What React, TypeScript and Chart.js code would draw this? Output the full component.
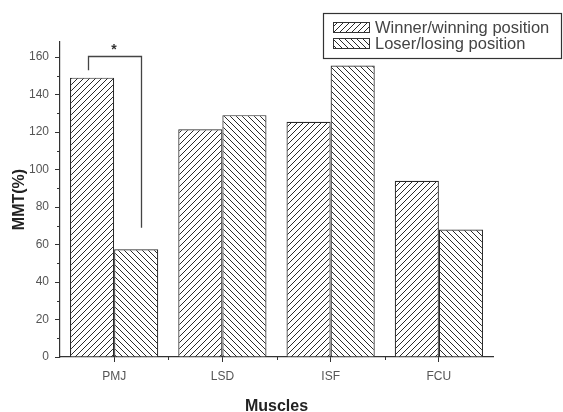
import React, { useEffect, useRef } from "react";
import { Chart, registerables } from "chart.js";

Chart.register(...registerables);

const categories = ["PMJ", "LSD", "ISF", "FCU"];
const winnerValues = [149, 121.5, 125.5, 94];
const loserValues = [57.5, 129, 155.5, 68];
const seriesLabels = ["Winner/winning position", "Loser/losing position"];
const yTicks = [0, 20, 40, 60, 80, 100, 120, 140, 160];
const yMinorTicks = [10, 30, 50, 70, 90, 110, 130, 150];
const bracket = { top: 160.5, leftEnd: 153, rightEnd: 69, star: 164.5 };

const FONT = "'Liberation Sans', Arial, sans-serif";

function makePattern(dir: number): CanvasPattern | string {
  const s = 6;
  const c = document.createElement("canvas");
  c.width = s;
  c.height = s;
  const ctx = c.getContext("2d");
  if (!ctx) return "#fff";
  ctx.fillStyle = "#ffffff";
  ctx.fillRect(0, 0, s, s);
  ctx.strokeStyle = "#2a2a2a";
  ctx.lineWidth = 1;
  ctx.beginPath();
  if (dir > 0) {
    ctx.moveTo(-1, s + 1);
    ctx.lineTo(s + 1, -1);
    ctx.moveTo(-1, 1);
    ctx.lineTo(1, -1);
    ctx.moveTo(s - 1, s + 1);
    ctx.lineTo(s + 1, s - 1);
  } else {
    ctx.moveTo(-1, -1);
    ctx.lineTo(s + 1, s + 1);
    ctx.moveTo(s - 1, -1);
    ctx.lineTo(s + 1, 1);
    ctx.moveTo(-1, s - 1);
    ctx.lineTo(1, s + 1);
  }
  ctx.stroke();
  const p = ctx.createPattern(c, "repeat");
  return p || "#fff";
}

export default function App() {
  const ref = useRef<HTMLCanvasElement | null>(null);

  useEffect(() => {
    document.body.style.margin = "0";
    const canvas = ref.current;
    if (!canvas) return;
    const patW = makePattern(1);
    const patL = makePattern(-1);

    const extras = {
      id: "extras",
      afterDraw(chart: any) {
        const ctx = chart.ctx;
        const x = chart.scales.x;
        const y = chart.scales.y;
        ctx.save();
        ctx.strokeStyle = "#333";
        ctx.lineWidth = 1;
        ctx.beginPath();
        for (const v of yMinorTicks) {
          const py = Math.round(y.getPixelForValue(v)) + 0.5;
          ctx.moveTo(y.right - 3, py);
          ctx.lineTo(y.right, py);
        }
        for (let i = 0; i < categories.length - 1; i++) {
          const px = Math.round(x.getPixelForValue(i + 0.5)) + 0.5;
          ctx.moveTo(px, x.top);
          ctx.lineTo(px, x.top + 3);
        }
        ctx.stroke();

        // significance bracket
        const m0 = chart.getDatasetMeta(0).data[0];
        const m1 = chart.getDatasetMeta(1).data[0];
        const lx = Math.round(m0.x - 4) + 0.5;
        const rx = Math.round(m1.x + 5) + 0.5;
        const ty = Math.round(y.getPixelForValue(bracket.top)) + 0.5;
        ctx.strokeStyle = "#444";
        ctx.lineWidth = 1.3;
        ctx.beginPath();
        ctx.moveTo(lx, y.getPixelForValue(bracket.leftEnd));
        ctx.lineTo(lx, ty);
        ctx.lineTo(rx, ty);
        ctx.lineTo(rx, y.getPixelForValue(bracket.rightEnd));
        ctx.stroke();
        ctx.fillStyle = "#333";
        ctx.font = "bold 14px " + FONT;
        ctx.textAlign = "center";
        ctx.textBaseline = "middle";
        ctx.fillText("*", (lx + rx) / 2 - 1, y.getPixelForValue(bracket.star) + 2);

        // legend
        const bx = 323.5, by = 13.5, bw = 238, bh = 45;
        ctx.strokeStyle = "#333";
        ctx.lineWidth = 1.2;
        ctx.strokeRect(bx, by, bw, bh);
        const pats = [patW, patL];
        ctx.font = "16.5px " + FONT;
        ctx.textAlign = "left";
        ctx.textBaseline = "middle";
        seriesLabels.forEach((lab, i) => {
          const sy = 22 + i * 16;
          ctx.fillStyle = pats[i] as any;
          ctx.fillRect(333, sy, 36, 10);
          ctx.strokeStyle = "#333";
          ctx.lineWidth = 1;
          ctx.strokeRect(333.5, sy + 0.5, 36, 10);
          ctx.fillStyle = "#444";
          ctx.fillText(lab, 375, sy + 6);
        });
        ctx.restore();
      },
    };

    const chart = new Chart(canvas, {
      type: "bar",
      data: {
        labels: categories,
        datasets: [
          {
            label: seriesLabels[0],
            data: winnerValues,
            backgroundColor: patW as any,
            borderColor: "#2a2a2a",
            borderWidth: 1.2,
          },
          {
            label: seriesLabels[1],
            data: loserValues,
            backgroundColor: patL as any,
            borderColor: "#2a2a2a",
            borderWidth: 1.2,
          },
        ],
      },
      options: {
        animation: false,
        responsive: false,
        layout: { padding: { left: 0, top: 42, right: 70, bottom: 0 } },
        plugins: { legend: { display: false }, tooltip: { enabled: false } },
        datasets: { bar: { categoryPercentage: 0.815, barPercentage: 1 } },
        scales: {
          x: {
            grid: { display: true, drawOnChartArea: false, offset: false, tickLength: 5, color: "#333", tickWidth: 1 },
            border: { display: true, color: "#333", width: 1.2 },
            ticks: { color: "#555", font: { size: 12, family: FONT }, padding: 7 },
            title: {
              display: true,
              text: "Muscles",
              color: "#222",
              font: { size: 16, weight: "bold", family: FONT, lineHeight: 1 },
              padding: { top: 0, bottom: -3 },
            },
            afterFit: (s: any) => {
              s.height = 55;
            },
          },
          y: {
            min: 0,
            max: 168,
            grid: { display: true, drawOnChartArea: false, tickLength: 5, color: "#333", tickWidth: 1 },
            border: { display: true, color: "#333", width: 1.2 },
            ticks: { color: "#555", font: { size: 12, family: FONT }, padding: 6 },
            afterBuildTicks: (s: any) => {
              s.ticks = yTicks.map((v) => ({ value: v }));
            },
            title: {
              display: true,
              text: "MMT(%)",
              color: "#222",
              font: { size: 16, weight: "bold", family: FONT, lineHeight: 1 },
              padding: { top: 12, bottom: 0 },
            },
            afterFit: (s: any) => {
              s.width = 60;
            },
          },
        },
      },
      plugins: [extras],
    });
    return () => chart.destroy();
  }, []);

  return <canvas ref={ref} width={563} height={412} style={{ display: "block" }} />;
}
